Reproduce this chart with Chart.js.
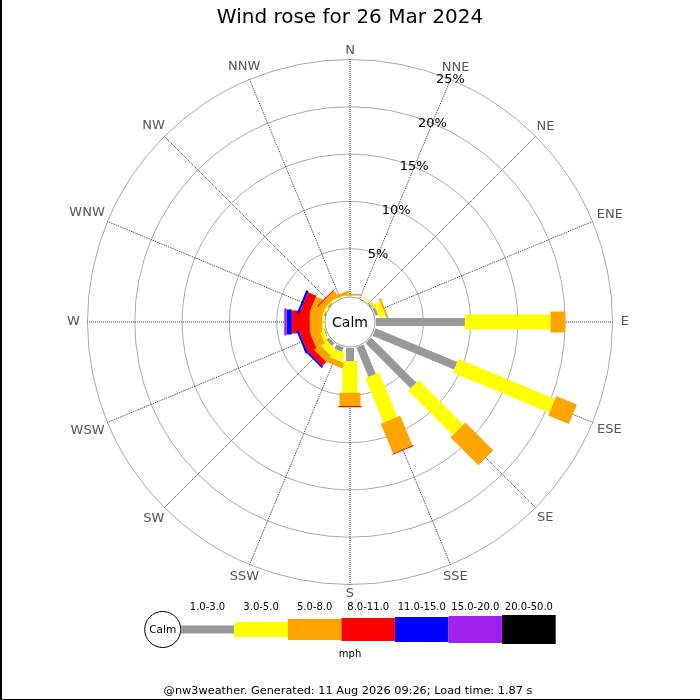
<!DOCTYPE html>
<html>
<head>
<meta charset="utf-8">
<title>Wind rose for 26 Mar 2024</title>
<script src="https://cdn.jsdelivr.net/npm/chart.js@4.4.1/dist/chart.umd.min.js"></script>
<style>
  html, body { margin: 0; padding: 0; background: #fff; }
  #wrap { width: 700px; height: 700px; }
</style>
</head>
<body>
<div id="wrap"><canvas id="roseChart" width="700" height="700"></canvas></div>
<script>
// Compass points, clockwise from north
const directions = ['N', 'NNE', 'NE', 'ENE', 'E', 'ESE', 'SE', 'SSE',
                    'S', 'SSW', 'SW', 'WSW', 'W', 'WNW', 'NW', 'NNW'];

// Speed bins (mph) and their colours
const speedBins = ['1.0-3.0', '3.0-5.0', '5.0-8.0', '8.0-11.0', '11.0-15.0', '15.0-20.0', '20.0-50.0'];
const binColors = ['#999999', '#ffff00', '#ffa500', '#ff0000', '#0000ff', '#a020f0', '#000000'];

// Frequency (% of the day) per direction, one array per speed bin
const freq1to3   = [0, 0, 0.05, 0.3, 9.4, 9.35, 6.75, 3.37, 1.37, 0.5, 0.4, 0.1, 0.05, 0.05, 0.05, 0];
const freq3to5   = [0.05, 0, 0.15, 0.7, 9.05, 11.05, 6.65, 5.06, 3.35, 1.0, 0.8, 0.5, 0.15, 0.2, 0.15, 0.1];
const freq5to8   = [0.15, 0, 0, 0.2, 1.55, 2.35, 4.15, 3.41, 1.41, 0.6, 0.8, 1.0, 1.3, 1.35, 0.6, 0.3];
const freq8to11  = [0, 0, 0, 0, 0, 0, 0, 0.1, 0.12, 0, 0.6, 1.0, 1.9, 0.95, 0.1, 0];
const freq11to15 = [0, 0, 0, 0, 0, 0, 0, 0, 0, 0, 0.2, 0.25, 0.55, 0.25, 0, 0];
const freq15to20 = [0, 0, 0, 0, 0, 0, 0, 0, 0, 0, 0, 0, 0.25, 0, 0, 0];
const freq20to50 = [0, 0, 0, 0, 0, 0, 0, 0, 0, 0, 0, 0, 0, 0, 0, 0];

// Radial rings (%)
const ringTicks = [5, 10, 15, 20, 25];
const ringLabels = ['5%', '10%', '15%', '20%', '25%'];

const titleText = 'Wind rose for 26 Mar 2024';
const footerText = '@nw3weather. Generated: 11 Aug 2026 09:26; Load time: 1.87 s';

const series = [freq1to3, freq3to5, freq5to8, freq8to11, freq11to15, freq15to20, freq20to50];
const binWidths = [8, 15, 21, 23, 25, 27, 29]; // bar thickness in px
const CALM = 2.75;   // the calm circle pushes 0% out by this much (in % units)
const RANGE = 30;
const FONT = "'DejaVu Sans', sans-serif";

// compass bearing -> x/y in data units (y up = north)
function polar(r, theta) {
    return { x: r * Math.sin(theta), y: r * Math.cos(theta) };
}

// One short thick line per direction and speed bin, stacked outward
const datasets = [];
directions.forEach((dir, d) => {
    const theta = d * Math.PI / 8;
    let base = CALM;
    series.forEach((vals, b) => {
        const v = vals[d];
        if (v > 0) {
            datasets.push({
                label: dir + ' ' + speedBins[b],
                data: [polar(base, theta), polar(base + v, theta)],
                borderColor: binColors[b],
                backgroundColor: binColors[b],
                borderWidth: binWidths[b],
                borderCapStyle: 'butt',
                showLine: true,
                pointRadius: 0,
                order: 10 - b
            });
        }
        base += v;
    });
});

const roseDecor = {
    id: 'roseDecor',
    beforeDatasetsDraw(chart) {
        const { ctx, scales: { x, y } } = chart;
        const cx = x.getPixelForValue(0), cy = y.getPixelForValue(0);
        const unit = x.getPixelForValue(1) - cx;
        const outer = (CALM + ringTicks[ringTicks.length - 1]) * unit;
        ctx.save();
        // rings
        ctx.strokeStyle = '#aaaaaa';
        ctx.lineWidth = 1;
        ringTicks.forEach(t => {
            ctx.beginPath();
            ctx.arc(cx, cy, (CALM + t) * unit, 0, Math.PI * 2);
            ctx.stroke();
        });
        // spokes
        ctx.strokeStyle = '#333333';
        ctx.setLineDash([1, 1]);
        directions.forEach((d, i) => {
            const th = i * Math.PI / 8;
            ctx.beginPath();
            ctx.moveTo(cx + Math.sin(th) * CALM * unit, cy - Math.cos(th) * CALM * unit);
            ctx.lineTo(cx + Math.sin(th) * outer, cy - Math.cos(th) * outer);
            ctx.stroke();
        });
        ctx.setLineDash([]);
        // compass labels
        ctx.fillStyle = '#555555';
        ctx.font = '13px ' + FONT;
        ctx.textAlign = 'center';
        ctx.textBaseline = 'middle';
        directions.forEach((d, i) => {
            const th = i * Math.PI / 8;
            const w = ctx.measureText(d).width;
            const r = outer + 9 + 0.8 * Math.abs(Math.sin(th)) * w / 2;
            ctx.fillText(d, cx + Math.sin(th) * r, cy - Math.cos(th) * r);
        });
        ctx.restore();
    },
    afterDatasetsDraw(chart) {
        const { ctx, scales: { x, y } } = chart;
        const cx = x.getPixelForValue(0), cy = y.getPixelForValue(0);
        const unit = x.getPixelForValue(1) - cx;
        ctx.save();
        // calm circle
        ctx.beginPath();
        ctx.arc(cx, cy, CALM * unit - 1, 0, Math.PI * 2);
        ctx.fillStyle = '#ffffff';
        ctx.fill();
        ctx.strokeStyle = '#999999';
        ctx.lineWidth = 1;
        ctx.stroke();
        ctx.fillStyle = '#000000';
        ctx.textAlign = 'center';
        ctx.textBaseline = 'middle';
        ctx.font = '14px ' + FONT;
        ctx.fillText('Calm', cx, cy + 1);

        // ring labels along NNE
        ctx.font = '13px ' + FONT;
        const thl = Math.PI / 8;
        ringTicks.forEach((t, i) => {
            const r = (CALM + t) * unit;
            ctx.fillText(ringLabels[i], cx + Math.sin(thl) * r, cy - Math.cos(thl) * r);
        });

        // title
        ctx.font = '20px ' + FONT;
        ctx.fillText(titleText, 350, 18);

        // legend
        const legY = 629.5, legX = 180.7, segW = 53.57;
        ctx.beginPath();
        ctx.arc(legX - 18, legY, 18, 0, Math.PI * 2);
        ctx.fillStyle = '#ffffff';
        ctx.fill();
        ctx.strokeStyle = '#000000';
        ctx.stroke();
        ctx.fillStyle = '#000000';
        ctx.font = '10.5px ' + FONT;
        ctx.fillText('Calm', legX - 18, legY + 1);
        speedBins.forEach((lab, b) => {
            const h = binWidths[b];
            ctx.fillStyle = binColors[b];
            ctx.fillRect(legX + b * segW, legY - h / 2, segW, h);
            ctx.fillStyle = '#000000';
            ctx.font = '10px ' + FONT;
            ctx.fillText(lab, legX + (b + 0.5) * segW, 607);
        });
        ctx.fillText('mph', 350, 654);

        // footer
        ctx.font = '11.3px ' + FONT;
        ctx.fillText(footerText, 348, 691);

        // frame edges
        ctx.fillStyle = '#000000';
        ctx.fillRect(0, 0, 2, 700);
        ctx.fillRect(0, 699, 700, 1);
        ctx.restore();
    }
};

const pad = 350 - RANGE * 9.46;
new Chart(document.getElementById('roseChart').getContext('2d'), {
    type: 'scatter',
    data: { datasets: datasets },
    options: {
        responsive: false,
        animation: false,
        events: [],
        layout: {
            padding: { left: pad, right: pad, top: 322 - RANGE * 9.46, bottom: 700 - 322 - RANGE * 9.46 }
        },
        scales: {
            x: { type: 'linear', min: -RANGE, max: RANGE, display: false },
            y: { type: 'linear', min: -RANGE, max: RANGE, display: false }
        },
        plugins: {
            legend: { display: false },
            tooltip: { enabled: false },
            title: { display: false }
        }
    },
    plugins: [roseDecor]
});
</script>
</body>
</html>
